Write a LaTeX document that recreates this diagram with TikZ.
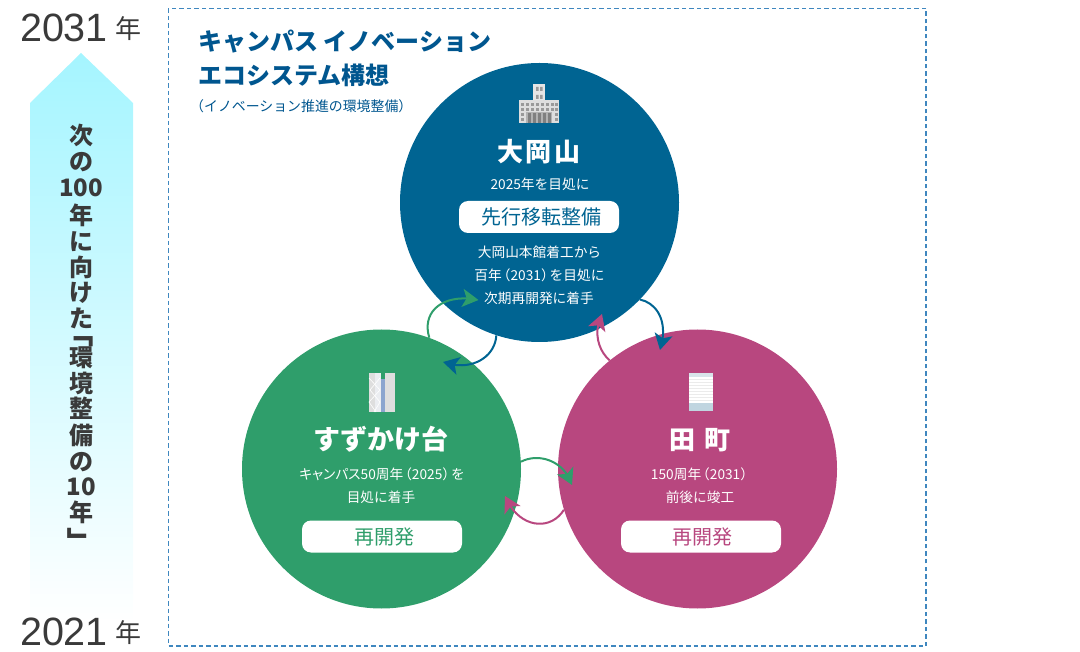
\documentclass[tikz,border=0pt]{standalone}
\usepackage{fontspec}
\usetikzlibrary{arrows.meta,bending}
\setmainfont{Noto Sans CJK JP}
\newfontfamily\jpp[RawFeature={+palt}]{Noto Sans CJK JP}
\newfontfamily\numf{Liberation Sans}
\definecolor{cblue}{HTML}{006492}
\definecolor{cgreen}{HTML}{2F9E6B}
\definecolor{cpink}{HTML}{B8477F}
\definecolor{cdash}{HTML}{3F87BF}
\definecolor{cink}{HTML}{3A3A3A}
\definecolor{ctitle}{HTML}{00568F}
\definecolor{caqua}{HTML}{A5F5FF}
\definecolor{cpale}{HTML}{D8E4EA}
\definecolor{cpale2}{HTML}{C0D5E0}
\definecolor{cmid}{HTML}{8CA5CF}
\newcommand{\lpar}{\kern-5pt （}
\newcommand{\rpar}{）\kern-5pt }
\tikzset{
  bigcircle/.style={circle,minimum size=279pt,inner sep=0,draw=none},
  placename/.style={text=white,font=\fontsize{26}{30}\selectfont\bfseries,inner sep=0},
  small/.style={text=white,font=\fontsize{13.7}{13.7}\selectfont,inner sep=0},
  pill/.style={fill=white,rounded corners=9pt,minimum height=32pt,minimum width=160pt,inner sep=0,font=\fontsize{20}{20}\selectfont},
  yearnum/.style={text=cink,font=\numf\fontsize{39.5}{39.5}\selectfont,inner sep=0},
  yearj/.style={text=cink,font=\fontsize{26}{26}\selectfont,inner sep=0},
  vchar/.style={text=cink,font=\fontsize{24}{24}\selectfont\bfseries,inner sep=0},
  vbracket/.style={text=cink,font=\fontsize{30}{30}\selectfont\bfseries,inner sep=0,rotate=-90},
  title/.style={text=ctitle,font=\fontsize{24}{24}\selectfont\bfseries,inner sep=0,anchor=west},
  loopline/.style={line width=2pt,-{Stealth[length=16pt,width=18pt,inset=4pt]}},
  lgrey/.style={fill=black!13},
}
\begin{document}
\begin{tikzpicture}[x=1pt,y=-1pt]
\useasboundingbox (0,0) rectangle (1080,652);
% frame
\draw[cdash,line width=1.2pt,dash pattern=on 4.5pt off 3pt] (168.5,8.5) rectangle (926,646);
% big arrow
\path[top color=caqua,bottom color=white] (81,53) -- (133,103) -- (133,622) -- (30,622) -- (30,103) -- cycle;
% years
\node[yearnum] (y31) at (64,28) {2031};
\node[yearj] (yj31) at (128,29) {年};
\node[yearnum] (y21) at (64,632) {2021};
\node[yearj] (yj21) at (128,633) {年};
% vertical text
\node[vchar] (v1) at (81,135) {次};
\node[vchar] (v2) at (81,162) {の};
\node[vchar] (v3) at (81,188) {100};
\node[vchar] (v4) at (81,215) {年};
\node[vchar] (v5) at (81,242) {に};
\node[vchar] (v6) at (81,267) {向};
\node[vchar] (v7) at (81,293) {け};
\node[vchar] (v8) at (81,318) {た};
\node[vbracket] (v9) at (80.5,333) {「};
\node[vchar] (v10) at (81,358) {環};
\node[vchar] (v11) at (81,383) {境};
\node[vchar] (v12) at (81,408) {整};
\node[vchar] (v13) at (81,435) {備};
\node[vchar] (v14) at (81,462) {の};
\node[vchar] (v15) at (81,487) {10};
\node[vchar] (v16) at (81,512) {年};
\node[vbracket] (v17) at (77.5,542) {」};
% title
\node[title] (t1) at (198,42) {キャンパス イノベーション};
\node[title] (t2) at (198,75) {エコシステム構想};
\node[text=ctitle,font=\fontsize{13.9}{13.9}\selectfont,inner sep=0,anchor=west] (t3) at (190,106) {（イノベーション推進の環境整備）};
% circles
\node[bigcircle,fill=cblue] (top) at (539.5,202.5) {};
\node[bigcircle,fill=cgreen] (left) at (381.5,469) {};
\node[bigcircle,fill=cpink] (right) at (697.5,469) {};
% top icon
\fill[black!10] (533,84) rectangle (545,100);
\fill[black!40] (536,87) rectangle (538.5,91) (540,87) rectangle (542.5,91) (536,95) rectangle (538.5,99) (540,95) rectangle (542.5,99);
\fill[lgrey] (519,100) rectangle (559,123);
\foreach \yy in {103,108}{\foreach \xx in {522,527,532,537,542,547,552,556}{\fill[black!40] (\xx-1,\yy) rectangle +(2.5,3);}}
\foreach \yy in {113,118}{\foreach \xx in {522,556}{\fill[black!40] (\xx-1,\yy) rectangle +(2.5,3);}}
\fill[black!30] (526,112) rectangle (552,123);
\foreach \xx in {528,533,538,543,548}{\fill[black!50] (\xx,113) rectangle +(3,10);}
% left icon
\fill[black!13] (369,373) rectangle (381,412);
\fill[black!13] (385,373) rectangle (395,412);
\fill[cmid!70!black!13] (375,373) rectangle (381,412);
\fill[cmid] (381,379) rectangle (385,412);
\draw[white,line width=.6pt] (369,378) -- (380,390) -- (369,402) -- (376,412);
\draw[white,line width=.6pt] (380,378) -- (370,390) -- (380,402) -- (374,412);
% right icon
\fill[white] (689,373) rectangle (713,411);
\fill[cpale] (689,373) rectangle (713,377);
\foreach \yy in {379,382,385,388,391,394,397,400}{\fill[black!8] (689,\yy) rectangle (713,\yy+1);}
\fill[cpale2] (689,403) rectangle (713,411);
% top text
\node[placename] (n1) at (539,152) {大\kern3pt 岡\kern3pt 山};
\node[small] (n1a) at (540,184) {2025年を目処に};
\node[pill,text=cblue] (n1b) at (539,217) {\kern4pt 先行移転整備};
\node[small] (n1c) at (539.5,252) {大岡山本館着工から};
\node[small] (n1d) at (539.5,275) {百年\lpar 2031\rpar を目処に};
\node[small] (n1e) at (539,298) {次期再開発に着手};
% left text
\node[placename,font=\fontsize{27}{30}\selectfont\bfseries] (n2) at (381,439) {すずかけ台};
\node[small] (n2a) at (382,474) {{\jpp キャンパス}50周年\lpar 2025\rpar を};
\node[small] (n2b) at (381,497) {目処に着手};
\node[pill,text=cgreen] (n2c) at (382,536.5) {\kern4pt 再開発};
% right text
\node[placename] (n3) at (700,440) {田\kern10pt 町};
\node[small] (n3a) at (700,474) {150周年\lpar 2031\rpar};
\node[small] (n3b) at (700,497) {前後に竣工};
\node[pill,text=cpink] (n3c) at (701,536.5) {\kern3pt 再開発};
% connector ends
\coordinate (g1) at (478.5,300);
\coordinate (b1) at (443,362);
\coordinate (b2) at (660,350);
\coordinate (p1) at (602,314);
\coordinate (g2) at (572,485);
\coordinate (p2) at (505,496);
\draw[loopline,cgreen] (left.70) .. controls (421,310) and (445,293) .. (g1);
\draw[loopline,cblue] (top.252) .. controls (495,358) and (470,372) .. (b1);
\draw[loopline,cblue] (top.-44) .. controls (657,303) and (669,322) .. (b2);
\draw[loopline,cpink] (right.129) .. controls (598,350) and (593,332) .. (p1);
\draw[loopline,cgreen] (left.3) .. controls (540,452) and (565,462) .. (g2);
\draw[loopline,cpink] (right.197) .. controls (550,532) and (518,528) .. (p2);
\end{tikzpicture}
\end{document}
